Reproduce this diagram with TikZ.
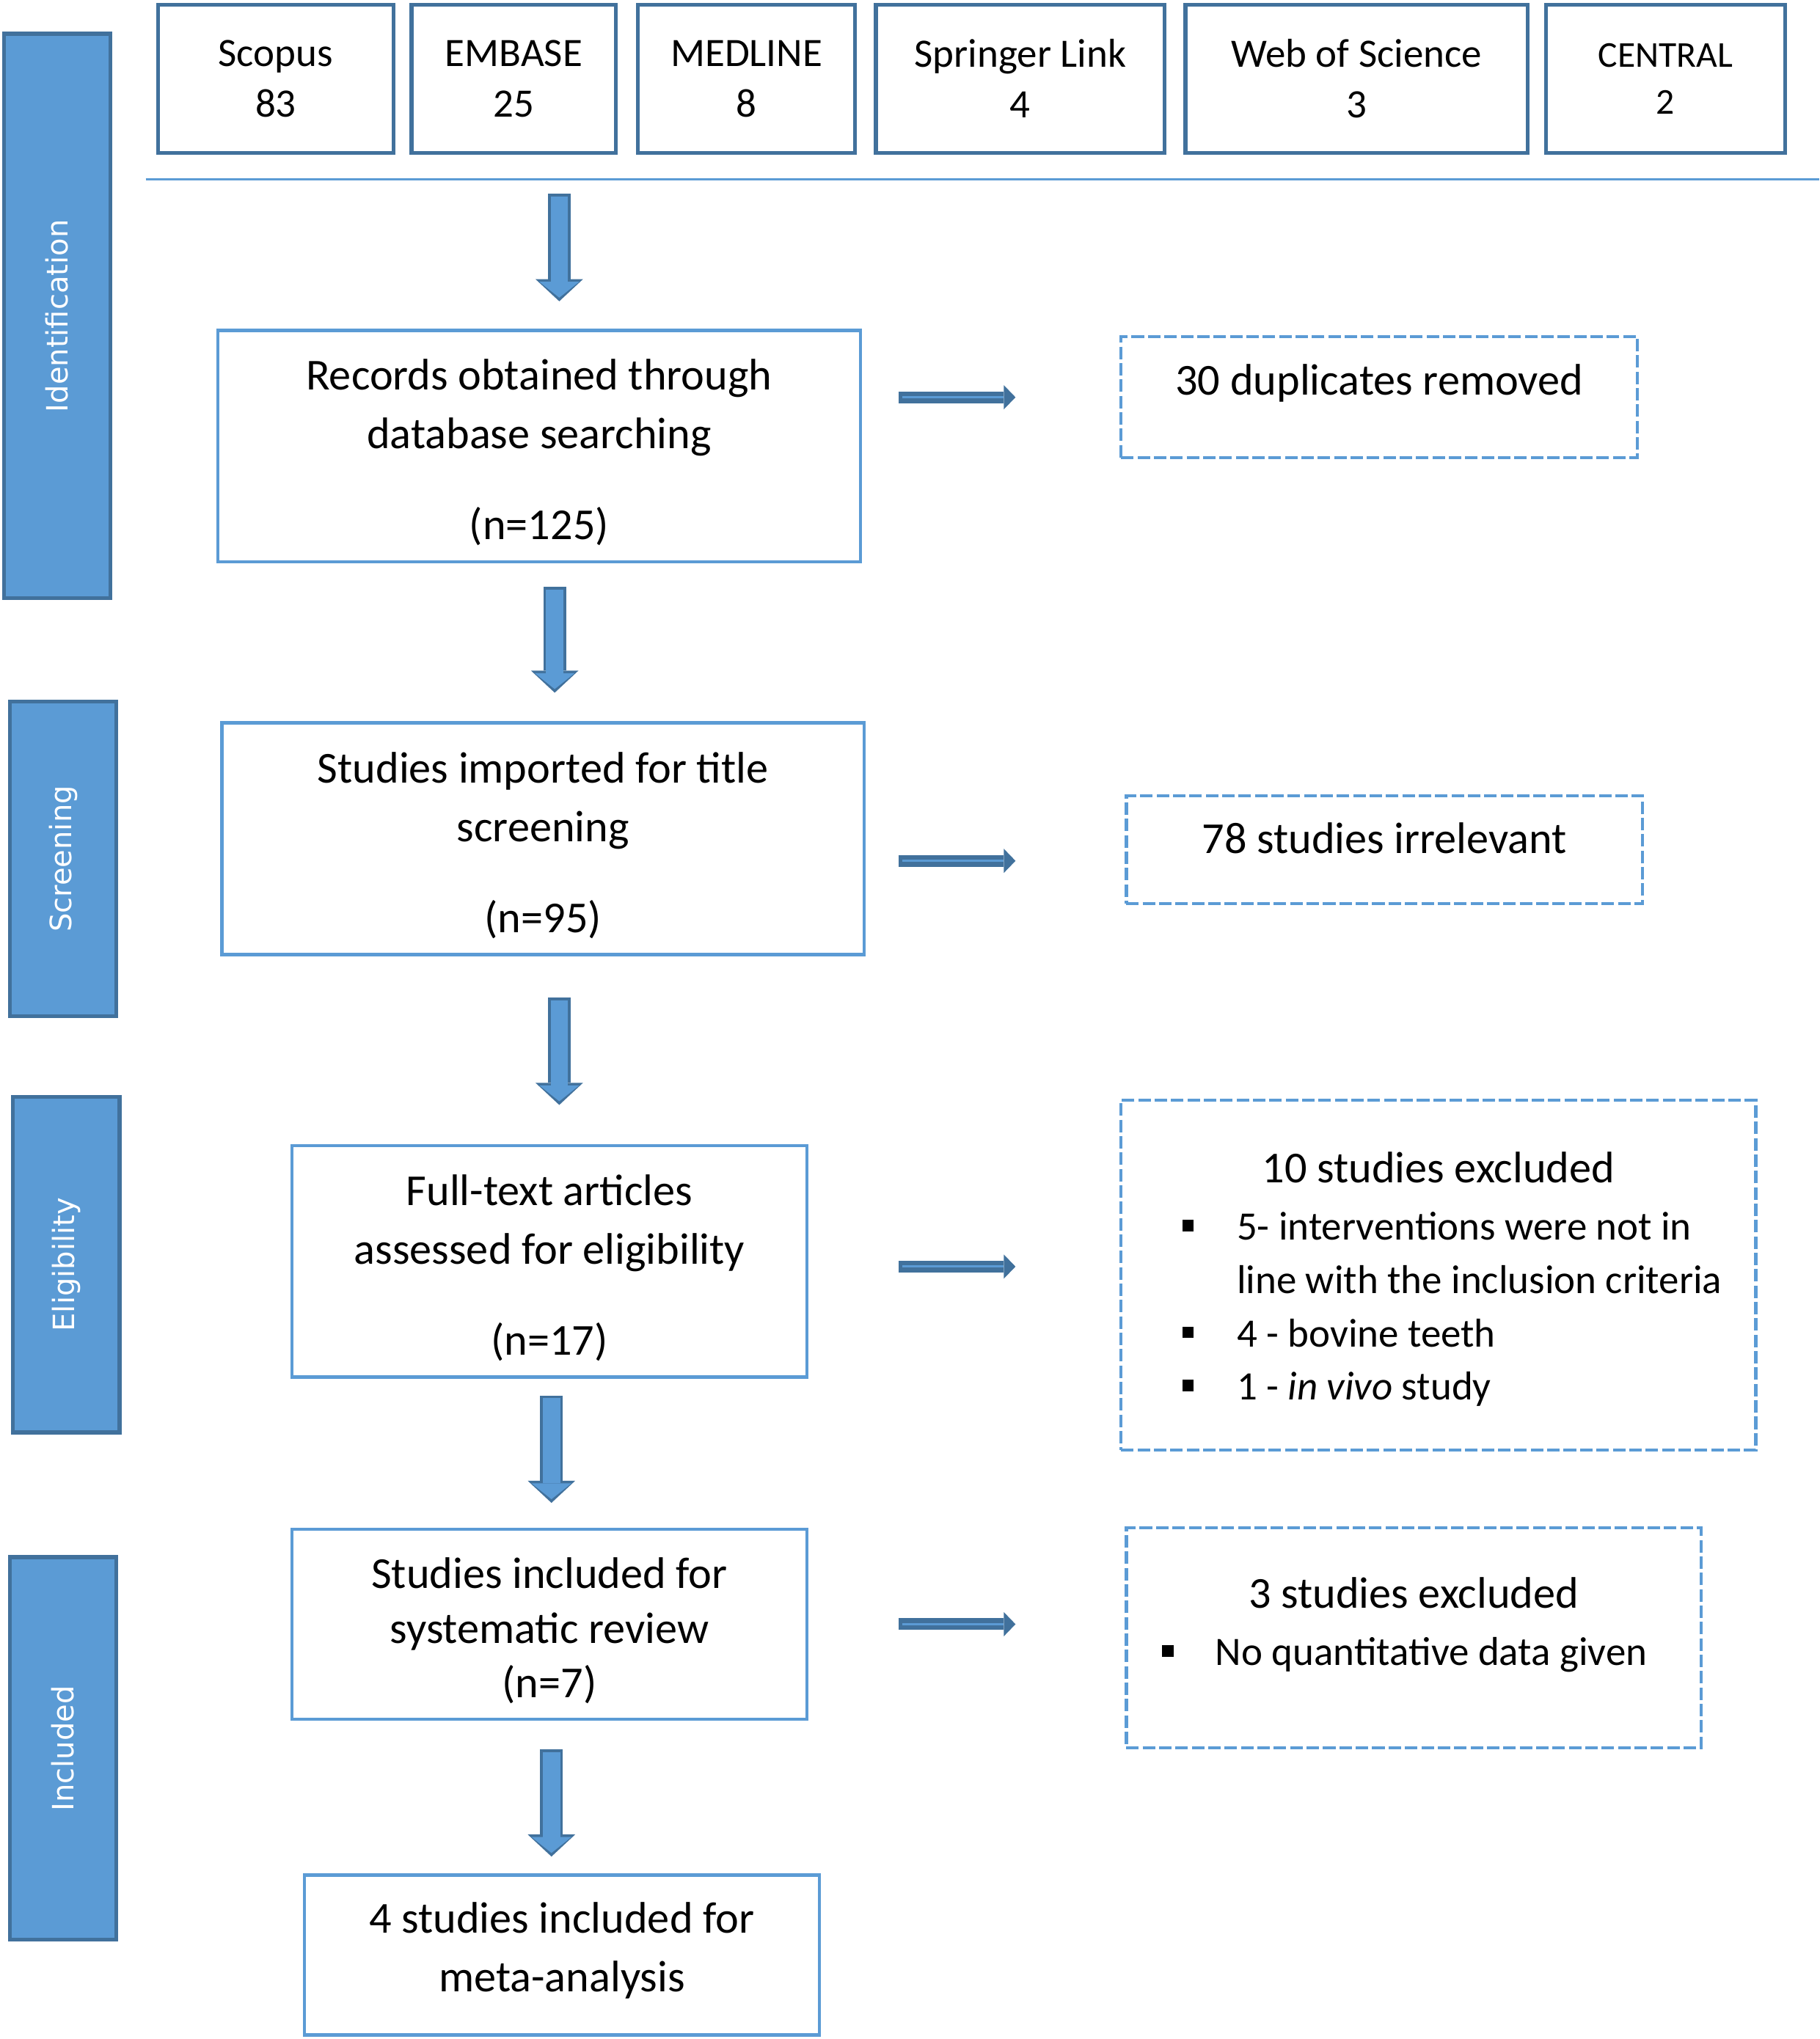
\documentclass[tikz,border=0pt]{standalone}
\usepackage{fontspec}
\setmainfont{Carlito}
\newfontfamily\phasefont{DejaVu Sans}
\usetikzlibrary{arrows.meta, positioning}
\definecolor{boxblue}{HTML}{5B9BD5}
\definecolor{edgeblue}{HTML}{41719C}
\newcommand{\sqbullet}{\raisebox{3.4pt}{\rule{4.4pt}{4.4pt}}}
\newcommand{\toppad}{\rule{0pt}{16.9pt}}

\begin{document}
\begin{tikzpicture}[
  x=0.5pt, y=-0.5pt,
  phase/.style={rectangle, draw=edgeblue, fill=boxblue, line width=1.5pt,
                rotate=90, text=white, minimum height=41pt,
                font=\phasefont\fontsize{11.3}{13}\selectfont},
  src/.style={rectangle, draw=edgeblue, line width=1.5pt, align=center,
              minimum height=57pt, inner sep=1pt,
              font=\fontsize{15.5}{19.5}\selectfont},
  stage/.style={rectangle, draw=boxblue, line width=1.3pt, align=center,
                font=\fontsize{17}{22.5}\selectfont},
  excl/.style={rectangle, draw=boxblue, line width=1.2pt,
               dash pattern=on 4.8pt off 1.5pt, align=center,
               font=\fontsize{17}{22.5}\selectfont},
  sepline/.style={draw=boxblue, line width=1pt},
  flow/.style 2 args={draw=boxblue, line width=6.65pt,
    shorten <=#1+1pt, shorten >=#2+1.4pt,
    -{Triangle[length=6.1pt, width=15.3pt, line width=0pt]},
    preaction={draw=edgeblue, line width=8.65pt, shorten <=#1, shorten >=#2,
      -{Triangle[length=8.5pt, width=18.25pt, line width=0pt]}}},
  side/.style 2 args={draw=boxblue, line width=0.9pt,
    shorten <=#1+1.5pt, shorten >=#2+4.5pt,
    preaction={draw=edgeblue, line width=4.5pt, shorten <=#1, shorten >=#2,
      -{Triangle[length=4.5pt, width=9.3pt, line width=0pt]}}}
]
  \useasboundingbox (0,0) rectangle (1399,1568);

  % phases
  \node[phase, minimum width=217pt] (ident) at (44,243) {Identification};
  \node[phase, minimum width=121pt] (screen) at (48.5,660.5) {Screening};
  \node[phase, minimum width=129pt] (elig) at (51,972.5) {Eligibility};
  \node[phase, minimum width=147pt] (incl) at (48.5,1344.5) {Included};

  % databases
  \node[src, minimum width=90.5pt] (scopus) at (212,60.5) {Scopus\\83};
  \node[src, minimum width=78.5pt, right=5.5pt of scopus] (embase) {EMBASE\\25};
  \node[src, minimum width=83.5pt, right=7pt of embase] (medline) {MEDLINE\\8};
  \node[src, minimum width=111pt, right=6.5pt of medline] (springer) {Springer Link\\4};
  \node[src, minimum width=131.5pt, right=6.5pt of springer] (wos) {Web of Science\\3};
  \node[src, minimum width=92pt, right=5.5pt of wos,
        font=\fontsize{14}{18}\selectfont] (central) {CENTRAL\\2};

  \coordinate (rulel) at (112,138);
  \coordinate (ruler) at (1399,138);
  \draw[sepline] (rulel) -- (ruler);

  % main column
  \node[stage, minimum width=247pt, minimum height=89pt] (rec) at (414.5,343)
    {\toppad Records obtained through\\database searching\\[12.5pt](n=125)};
  \node[stage, minimum width=247pt, minimum height=89pt] (imp) at (417.5,645)
    {\toppad Studies imported for title\\screening\\[12.5pt](n=95)};
  \node[stage, minimum width=198pt, minimum height=89pt] (full) at (422.5,970)
    {\toppad Full-text articles\\assessed for eligibility\\[12.5pt](n=17)};
  \node[stage, minimum width=198pt, minimum height=73pt,
        font=\fontsize{17}{21}\selectfont] (inc) at (422.5,1249)
    {\toppad Studies included for\\systematic review\\(n=7)};
  \node[stage, minimum width=198pt, minimum height=61.5pt] (meta) at (432,1503.5)
    {4 studies included for\\meta-analysis\rule[-6.4pt]{0pt}{6.4pt}};

  % exclusions
  \node[excl, minimum width=198.5pt, minimum height=46.5pt, text height=11pt,
        text depth=13pt] (dup) at (1060.5,305.5) {30 duplicates removed};
  \node[excl, minimum width=198.5pt, minimum height=41.5pt, text height=11pt,
        text depth=8pt] (irr) at (1064.5,653.5) {78 studies irrelevant};
  \node[excl, minimum width=244pt, minimum height=134.5pt,
        font=\fontsize{15.5}{20.5}\selectfont] (excl10) at (1106,980.5) {%
    \begin{tabular}{@{\hspace{10.5pt}}p{21pt}@{}l@{}}
      \multicolumn{2}{@{}c@{}}{\rule{0pt}{18.85pt}\fontsize{17}{22.5}\selectfont 10 studies excluded}\\[1.5pt]
      \sqbullet & 5- interventions were not in\\
      & line with the inclusion criteria\\
      \sqbullet & 4 - bovine teeth\\
      \sqbullet & 1 - \textit{in vivo} study
    \end{tabular}};
  \node[excl, minimum width=221pt, minimum height=84.5pt,
        font=\fontsize{15.5}{20.5}\selectfont] (excl3) at (1087,1259.5) {%
    \begin{tabular}{@{\hspace{-7pt}}p{20.5pt}@{}l@{}}
      \multicolumn{2}{@{}c@{}}{\fontsize{17}{22.5}\selectfont 3 studies excluded}\\[1.5pt]
      \sqbullet & No quantitative data given\\[9pt]
    \end{tabular}};

  % arrows
  \draw[flow={5.5pt}{10.5pt}] ([xshift=7.75pt]rec.north |- rulel) -- ([xshift=7.75pt]rec.north);
  \draw[flow={9pt}{11pt}] ([xshift=6pt]rec.south) -- ([xshift=6pt]rec.south |- imp.north);
  \draw[flow={16pt}{15pt}] ([xshift=6.25pt]imp.south) -- ([xshift=6.25pt]imp.south |- full.north);
  \draw[flow={6.5pt}{9.5pt}] ([xshift=0.75pt]full.south) -- ([xshift=0.75pt]full.south |- inc.north);
  \draw[flow={11pt}{6.5pt}] ([xshift=0.75pt]inc.south) -- ([xshift=0.75pt]inc.south |- meta.north);

  \draw[side={14pt}{40pt}] (rec.east |- dup.west) -- (dup.west);
  \draw[side={12.5pt}{42pt}] ([yshift=-8.5pt]imp.east) -- ([yshift=-8.5pt]imp.east -| irr.west);
  \draw[side={34.5pt}{40pt}] ([yshift=-2pt]full.east) -- ([yshift=-2pt]full.east -| excl10.west);
  \draw[side={34.5pt}{42pt}] (inc.east) -- (inc.east -| excl3.west);

\end{tikzpicture}
\end{document}
